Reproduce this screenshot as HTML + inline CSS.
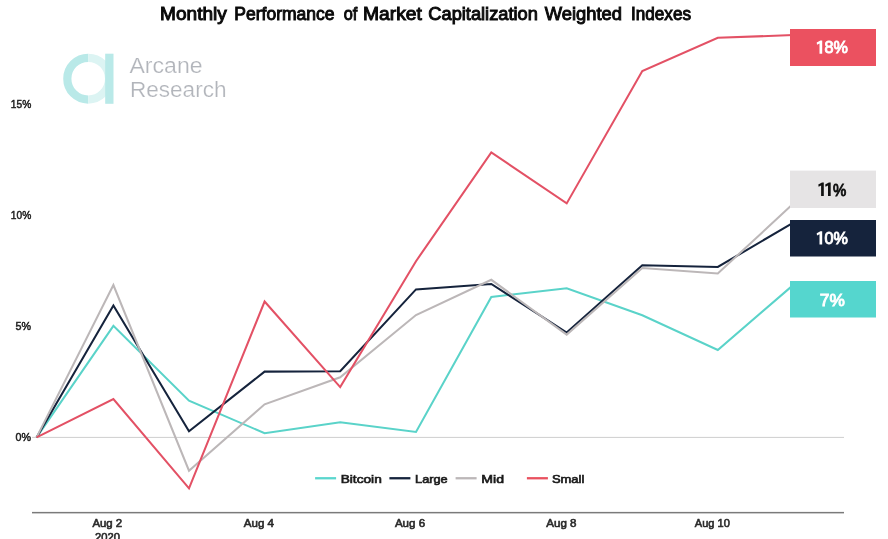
<!DOCTYPE html>
<html><head><meta charset="utf-8">
<style>
html,body{margin:0;padding:0;background:#fff;}
body{width:888px;height:539px;overflow:hidden;position:relative;}
svg{position:absolute;left:0;top:0;display:block;will-change:transform;}
text{font-family:"Liberation Sans",sans-serif;}
.sb{font-weight:normal;fill:currentColor;stroke:currentColor;stroke-width:0.45px;}
.ax{font-size:11px;color:#1e1e1e;stroke-width:0.5px !important;}
</style></head><body>
<svg width="888" height="539" viewBox="0 0 888 539">
<!-- title -->
<g id="title" class="sb" font-size="17.5" color="#0a0a0a" style="stroke-width:0.95px">
<text x="160.1" y="19.6" textLength="66.7" lengthAdjust="spacingAndGlyphs">Monthly</text>
<text x="234.3" y="19.6" textLength="100.2" lengthAdjust="spacingAndGlyphs">Performance</text>
<text x="343.8" y="19.6" textLength="13.6" lengthAdjust="spacingAndGlyphs">of</text>
<text x="363.0" y="19.6" textLength="58.8" lengthAdjust="spacingAndGlyphs">Market</text>
<text x="428.3" y="19.6" textLength="109.6" lengthAdjust="spacingAndGlyphs">Capitalization</text>
<text x="544.8" y="19.6" textLength="77.2" lengthAdjust="spacingAndGlyphs">Weighted</text>
<text x="631.0" y="19.6" textLength="60.0" lengthAdjust="spacingAndGlyphs">Indexes</text>
</g>
<!-- logo -->
<g id="logo">
<path d="M88.2 57.8 A20.9 20.9 0 0 0 88.2 99.6" fill="none" stroke="#b9e9e8" stroke-width="8.2"/>
<path d="M88.2 57.8 A20.9 20.9 0 0 1 88.2 99.6" fill="none" stroke="#dcf4f3" stroke-width="8.2"/>
<rect x="105.2" y="53.7" width="8.3" height="50.1" fill="#b9e9e8"/>
<text x="129.4" y="73.3" font-size="22.5" fill="#b2b5bb" stroke="#fff" stroke-width="0.22" paint-order="fill stroke" textLength="73.2" lengthAdjust="spacingAndGlyphs">Arcane</text>
<text x="129.9" y="96.6" font-size="22.5" fill="#b2b5bb" stroke="#fff" stroke-width="0.22" paint-order="fill stroke" textLength="96.6" lengthAdjust="spacingAndGlyphs">Research</text>
</g>
<!-- y axis labels -->
<g class="ax sb">
<text x="10.8" y="108" textLength="20.4" lengthAdjust="spacingAndGlyphs">15%</text>
<text x="10.8" y="219.3" textLength="20.4" lengthAdjust="spacingAndGlyphs">10%</text>
<text x="15.5" y="330.4" textLength="15.5" lengthAdjust="spacingAndGlyphs">5%</text>
<text x="15.5" y="441.3" textLength="15.5" lengthAdjust="spacingAndGlyphs">0%</text>
</g>
<!-- zero line and axis -->
<rect x="32" y="436.9" width="812" height="1" fill="#cfcfcf"/>
<rect x="32" y="511.9" width="812" height="1.5" fill="#7a7a7a"/>
<!-- series -->
<g fill="none" stroke-width="2.05" stroke-linejoin="miter" stroke-miterlimit="10">
<polyline id="btc" stroke="#5ad3c9" points="36.6,437.4 113.4,325.8 189.0,400.7 264.6,433.2 340.2,422.2 416.0,432.0 491.3,297.0 566.7,288.2 642.3,315.3 717.8,350.0 793.4,284.9"/>
<polyline id="large" stroke="#15233c" points="36.6,437.4 113.4,305.5 189.0,431.3 264.6,371.6 340.2,371.2 416.0,289.4 491.3,284.0 566.7,332.5 642.3,265.3 717.8,267.0 793.4,222.6"/>
<polyline id="mid" stroke="#bcb7b8" points="36.6,437.4 113.4,285.0 189.0,470.7 264.6,404.3 340.2,377.3 416.0,315.0 491.3,279.8 566.7,334.6 642.3,268.0 717.8,273.5 793.4,203.6"/>
<polyline id="small" stroke="#e35165" points="36.6,437.4 113.4,399.0 189.0,488.3 264.6,301.5 340.2,387.1 416.0,261.2 491.3,152.4 566.7,203.4 642.3,71.0 717.8,37.8 793.4,35.1"/>
</g>
<!-- value labels -->
<g>
<rect x="790" y="29" width="86" height="37" fill="#eb5160"/>
<rect x="790" y="170.6" width="86" height="37.4" fill="#e6e4e5"/>
<rect x="790" y="220" width="86" height="36.5" fill="#15233c"/>
<rect x="790" y="281" width="86" height="36.5" fill="#55d6ce"/>
<g>
<path fill="#fff" d="M819.50,53.80 V43.50 L817.00,44.70 L816.70,42.50 L820.40,40.50 H822.20 V53.80 Z"/>
<path fill="#111" d="M821.10,195.90 V185.60 L818.60,186.80 L818.30,184.60 L822.00,182.60 H823.80 V195.90 Z"/>
<path fill="#111" d="M828.00,195.90 V185.60 L825.50,186.80 L825.20,184.60 L828.90,182.60 H830.70 V195.90 Z"/>
<path fill="#fff" d="M819.50,244.60 V234.30 L817.00,235.50 L816.70,233.30 L820.40,231.30 H822.20 V244.60 Z"/>
</g>
<g class="sb" font-size="16" style="stroke-width:0.9px">
<text x="824.6" y="53.4" color="#fff" textLength="23.4" lengthAdjust="spacingAndGlyphs">8%</text>
<text x="832.9" y="195.9" color="#111" textLength="13.3" lengthAdjust="spacingAndGlyphs">%</text>
<text x="824.6" y="244.2" color="#fff" textLength="23.4" lengthAdjust="spacingAndGlyphs">0%</text>
<text x="819.8" y="306.1" color="#fff" textLength="25" lengthAdjust="spacingAndGlyphs">7%</text>
</g>
</g>
<!-- legend -->
<g>
<rect x="315.1" y="477.1" width="21" height="2.3" fill="#5ad6ce"/>
<rect x="389.4" y="477.1" width="21" height="2.3" fill="#15233c"/>
<rect x="455.6" y="477.1" width="21" height="2.3" fill="#bcb7b8"/>
<rect x="526.9" y="477.1" width="21" height="2.3" fill="#e9515f"/>
<g class="sb" font-size="11.7" color="#1a1a1a" style="stroke-width:0.65px">
<text x="340.7" y="483.4" textLength="41.1" lengthAdjust="spacingAndGlyphs">Bitcoin</text>
<text x="415.1" y="483.4" textLength="32.6" lengthAdjust="spacingAndGlyphs">Large</text>
<text x="481.3" y="483.4" textLength="22.7" lengthAdjust="spacingAndGlyphs">Mid</text>
<text x="551.9" y="483.4" textLength="32.4" lengthAdjust="spacingAndGlyphs">Small</text>
</g>
</g>
<!-- x labels -->
<g class="sb" font-size="11" color="#2a2a2a" text-anchor="middle" style="stroke-width:0.6px">
<text x="107.3" y="526.6" textLength="29.8" lengthAdjust="spacingAndGlyphs">Aug 2</text>
<text x="107.5" y="541.3" textLength="24.9" lengthAdjust="spacingAndGlyphs">2020</text>
<text x="258.9" y="526.6" textLength="30.2" lengthAdjust="spacingAndGlyphs">Aug 4</text>
<text x="410" y="526.6" textLength="30.2" lengthAdjust="spacingAndGlyphs">Aug 6</text>
<text x="561.4" y="526.6" textLength="30.3" lengthAdjust="spacingAndGlyphs">Aug 8</text>
<text x="712.3" y="526.6" textLength="35.1" lengthAdjust="spacingAndGlyphs">Aug 10</text>
</g>
</svg>
</body></html>
